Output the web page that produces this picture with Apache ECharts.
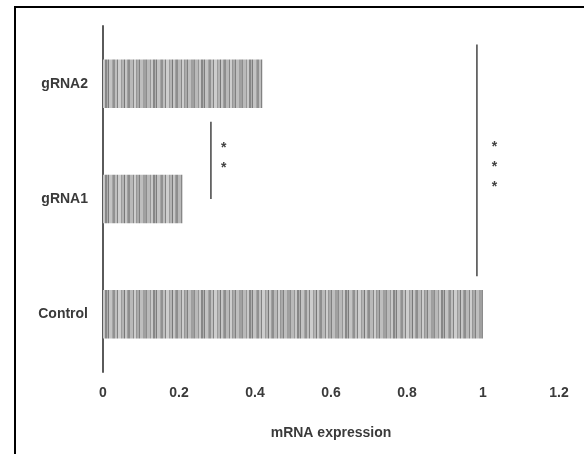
<!DOCTYPE html>
<html>
<head>
<meta charset="utf-8">
<script src="https://cdn.jsdelivr.net/npm/echarts@6/dist/echarts.min.js"></script>
<style>
html,body{margin:0;padding:0;background:#fff;}
#chart{width:584px;height:454px;}
</style>
</head>
<body>
<div id="chart"></div>
<script>
// ---- data ----
var categories = ['Control', 'gRNA1', 'gRNA2'];
var expression = [1.0, 0.21, 0.42];
var xTicks = [0, 0.2, 0.4, 0.6, 0.8, 1, 1.2];
// significance brackets: [x, yFrom (category units), yTo (category units)]
var brackets = [[0.284, 1.0, 1.67], [0.984, 0.33, 2.34]];
// significance marks: [x, y (category units), label]
var marks = [[0.318, 1.40, '*\n*'], [1.03, 1.32, '*\n*\n*']];

// ---- striped fill ----
function makeStripes() {
  var grays = [160,140,185,150,200,135,175,125,195,165,145,190,130,205,155,180,120,198,160,142,185,135,205,150,170,128,190,158];
  var widths = [2,1,3,1,2,2,1,1,3,1,2,2,1,3,1,2,1,2,1,2,3,1,2,1,2,1,3,1];
  var total = widths.reduce(function (a, b) { return a + b; }, 0);
  var c = document.createElement('canvas');
  c.width = total; c.height = 4;
  var ctx = c.getContext('2d');
  var x = 0;
  for (var i = 0; i < grays.length; i++) {
    var g = grays[i];
    ctx.fillStyle = 'rgb(' + g + ',' + g + ',' + g + ')';
    ctx.fillRect(x, 0, widths[i], 4);
    x += widths[i];
  }
  return c;
}
var stripe = makeStripes();

var chart = echarts.init(document.getElementById('chart'));
var font = '"Liberation Sans", Arial, sans-serif';
chart.setOption({
  animation: false,
  backgroundColor: '#fff',
  textStyle: { fontFamily: font },
  graphic: [{
    type: 'rect', z: 100, silent: true,
    shape: { x: 15, y: 7, width: 700, height: 600 },
    style: { fill: 'none', stroke: '#000', lineWidth: 2 }
  }],
  grid: { left: 103, right: 25, top: 26, bottom: 82, containLabel: false },
  xAxis: {
    type: 'value', min: 0, max: 1.2, interval: 0.2,
    axisLine: { show: false }, axisTick: { show: false }, splitLine: { show: false },
    axisLabel: {
      margin: 14, fontSize: 14, fontWeight: 'bold', color: '#3a3a3a', fontFamily: font,
      customValues: xTicks
    },
    name: 'mRNA expression', nameLocation: 'middle', nameGap: 54,
    nameTextStyle: { fontSize: 14, fontWeight: 'bold', color: '#3a3a3a', fontFamily: font }
  },
  yAxis: {
    type: 'category', data: categories,
    axisLine: { show: true, lineStyle: { color: '#5a5a5a', width: 2 } },
    axisTick: { show: false },
    axisLabel: { margin: 15, fontSize: 14, fontWeight: 'bold', color: '#3a3a3a', fontFamily: font }
  },
  series: [{
    type: 'bar',
    data: expression,
    barCategoryGap: '58%',
    itemStyle: { color: { image: stripe, repeat: 'repeat' } },
    z: 2
  }, {
    type: 'custom',
    data: brackets,
    encode: { x: 0, y: 1 },
    z: 5,
    renderItem: function (params, api) {
      var base = api.coord([api.value(0), 0]);
      var band = api.size([0, 1])[1];
      var x = base[0];
      var y1 = base[1] - api.value(1) * band;
      var y2 = base[1] - api.value(2) * band;
      return {
        type: 'line',
        shape: { x1: x, y1: y1, x2: x, y2: y2 },
        style: { stroke: '#444', lineWidth: 1.5 }
      };
    }
  }, {
    type: 'custom',
    data: marks,
    encode: { x: 0, y: 1 },
    z: 5,
    renderItem: function (params, api) {
      var base = api.coord([api.value(0), 0]);
      var band = api.size([0, 1])[1];
      return {
        type: 'text',
        style: {
          x: base[0], y: base[1] - api.value(1) * band + 5,
          text: marks[params.dataIndex][2],
          fontSize: 14, fontWeight: 'bold', fill: '#444', fontFamily: font,
          lineHeight: 20, align: 'center', verticalAlign: 'middle'
        }
      };
    }
  }]
});
</script>
</body>
</html>
